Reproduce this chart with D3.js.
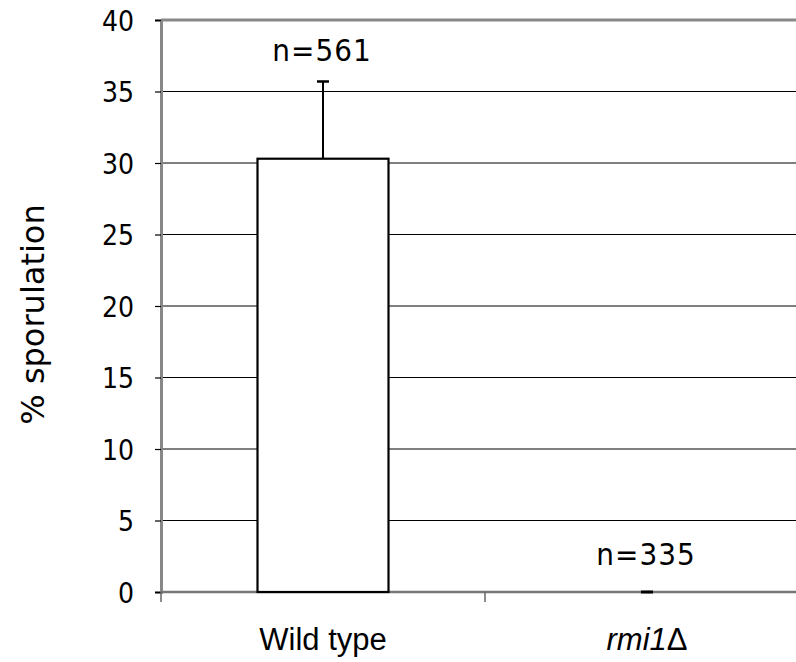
<!DOCTYPE html>
<html><head><meta charset="utf-8">
<script src="https://cdn.jsdelivr.net/npm/d3@7"></script>
<style>body{margin:0;background:#fff}svg{display:block}</style>
</head><body>
<svg id="c" width="796" height="662"></svg>
<script>
const categories = ["Wild type", "rmi1Δ"];
const values = [30.3, 0];
const errors = [5.4, 0];
const nLabels = ["n=561", "n=335"];
const yTicks = [0, 5, 10, 15, 20, 25, 30, 35, 40];

const svg = d3.select("#c");
const m = {left: 161, top: 20, bottom: 592};
const W = 648;
const x = d3.scaleBand().domain(categories).range([m.left, m.left + W]).paddingInner(0).paddingOuter(0);
const y = d3.scaleLinear().domain([0, 40]).range([m.bottom, m.top]);

// gridlines
svg.append("g").selectAll("line").data(yTicks.filter(t => t > 0 && t < 40)).join("line")
  .attr("x1", m.left).attr("x2", m.left + W)
  .attr("y1", d => y(d)).attr("y2", d => y(d))
  .attr("stroke", "#000").attr("stroke-width", 1.2);
// top border
svg.append("line").attr("x1", m.left).attr("x2", m.left + W)
  .attr("y1", y(40)).attr("y2", y(40)).attr("stroke", "#888").attr("stroke-width", 3);

// y axis
const yAxis = d3.axisLeft(y).tickValues(yTicks).tickSize(6).tickPadding(21).tickFormat(d3.format("d"));
const gy = svg.append("g").attr("transform", `translate(${m.left},0)`).call(yAxis);
gy.select(".domain").attr("stroke", "#888").attr("stroke-width", 3);
gy.selectAll(".tick line").attr("stroke", "#000").attr("stroke-width", 1.2);
gy.selectAll("text").attr("font-family", "'DejaVu Sans Condensed', 'DejaVu Sans', sans-serif")
  .attr("font-size", 28).attr("fill", "#000").attr("dy", "0.36em");

// x axis
const gx = svg.append("g").attr("transform", `translate(0,${m.bottom})`);
gx.append("line").attr("x1", m.left).attr("x2", m.left + W).attr("stroke", "#777").attr("stroke-width", 2.5);
gx.selectAll("line.tk").data([0, 1, 2]).join("line").attr("class", "tk")
  .attr("x1", d => m.left + d * x.bandwidth()).attr("x2", d => m.left + d * x.bandwidth())
  .attr("y1", 0).attr("y2", 10).attr("stroke", "#666").attr("stroke-width", 1.5);
const xl = gx.selectAll("text").data(categories).join("text")
  .attr("x", d => x(d) + x.bandwidth() / 2).attr("y", 58)
  .attr("text-anchor", "middle")
  .attr("font-family", "'Liberation Sans', Arial, sans-serif")
  .attr("font-size", 31);
xl.each(function(d, i) {
  const t = d3.select(this);
  if (i === 1) {
    t.append("tspan").attr("font-style", "italic").text(d.slice(0, -1));
    t.append("tspan").attr("font-style", "normal").text(d.slice(-1));
  } else {
    t.text(d);
  }
});

// bars
const bw = 131;
svg.append("g").selectAll("rect").data(values).join("rect")
  .filter(d => d > 0)
  .attr("x", (d, i) => x(categories[i]) + x.bandwidth() / 2 - bw / 2)
  .attr("y", d => y(d))
  .attr("width", bw).attr("height", d => y(0) - y(d))
  .attr("fill", "#fff").attr("stroke", "#000").attr("stroke-width", 2.2);

// error bars
const eg = svg.append("g");
values.forEach((v, i) => {
  const cx = x(categories[i]) + x.bandwidth() / 2;
  eg.append("line").attr("x1", cx).attr("x2", cx).attr("y1", y(v)).attr("y2", y(v + errors[i]))
    .attr("stroke", "#000").attr("stroke-width", 2);
  eg.append("line").attr("x1", cx - 6).attr("x2", cx + 6).attr("y1", y(v + errors[i])).attr("y2", y(v + errors[i]))
    .attr("stroke", "#000").attr("stroke-width", i === 1 ? 3 : 2.5);
});

// n labels
const nY = [61, 565];
svg.append("g").selectAll("text").data(nLabels).join("text")
  .attr("x", (d, i) => x(categories[i]) + x.bandwidth() / 2 - 1)
  .attr("y", (d, i) => nY[i])
  .attr("text-anchor", "middle")
  .attr("font-family", "'DejaVu Sans Condensed', 'DejaVu Sans', sans-serif")
  .attr("font-size", 31).attr("letter-spacing", 1)
  .text(d => d);

// y title
svg.append("text")
  .attr("transform", `translate(44,${(202 + 427) / 2}) rotate(-90)`)
  .attr("text-anchor", "middle")
  .attr("font-family", "'DejaVu Sans', sans-serif")
  .attr("font-size", 32)
  .text("% sporulation");
</script>
</body></html>
